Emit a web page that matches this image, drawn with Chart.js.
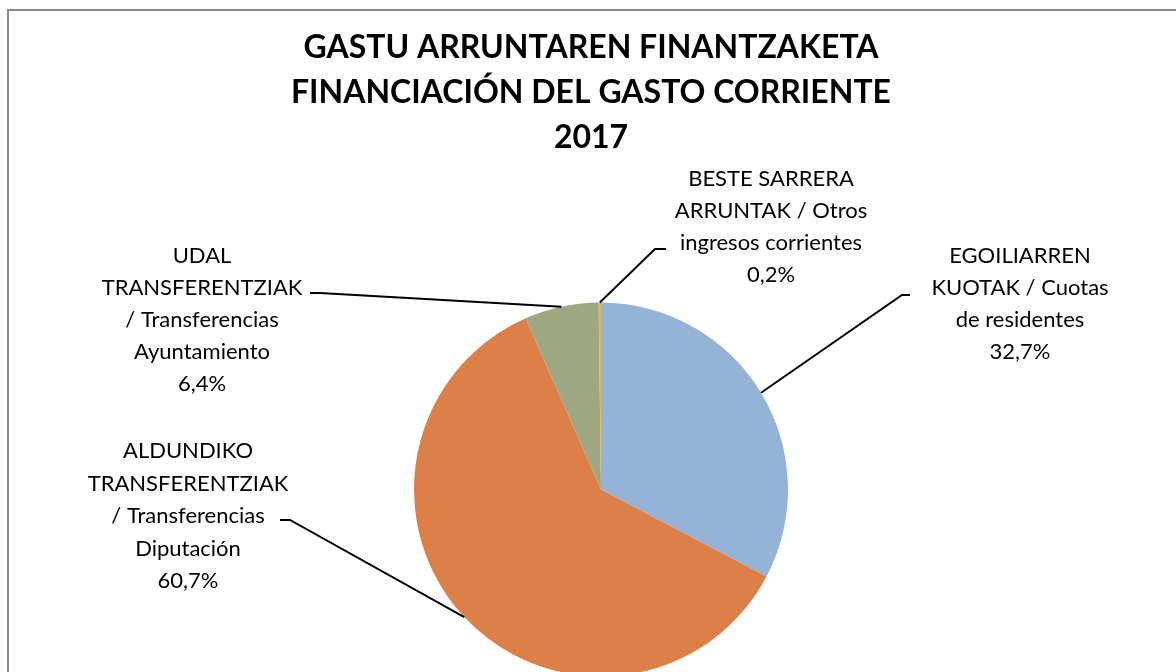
<!DOCTYPE html>
<html>
<head>
<meta charset="utf-8">
<script src="https://cdn.jsdelivr.net/npm/chart.js@4.4.1/dist/chart.umd.min.js"></script>
<style>
  html, body { margin: 0; padding: 0; background: #fff; overflow: hidden; }
  .frame {
    position: absolute; left: 7px; top: 9px;
    width: 1200px; height: 720px;
    border: 2px solid #8a8a8a;
    background: #fff;
  }
  #pie { display: block; }
</style>
</head>
<body>
<div class="frame">
  <canvas id="pie" width="1180" height="700"></canvas>
</div>
<script>
// data
const titleLines = ['GASTU ARRUNTAREN FINANTZAKETA', 'FINANCIACIÓN DEL GASTO CORRIENTE', '2017'];
const categories = [
  ['EGOILIARREN', 'KUOTAK / Cuotas', 'de residentes'],
  ['ALDUNDIKO', 'TRANSFERENTZIAK', '/ Transferencias', 'Diputación'],
  ['UDAL', 'TRANSFERENTZIAK', '/ Transferencias', 'Ayuntamiento'],
  ['BESTE SARRERA', 'ARRUNTAK / Otros', 'ingresos corrientes']
];
const shares = [32.7, 60.7, 6.4, 0.2];
const sliceColors = ['#95B3D7', '#DD8048', '#9DA882', '#EDB540'];

// where each label sits (elbow of the leader, end of the leader, text centre / first baseline / step)
const labelLayout = [
  { elbow: [893, 284], end: [901, 284], x: 1011, y: 252, step: 32 },
  { elbow: [281, 509], end: [271, 509], x: 179, y: 447, step: 32.5 },
  { elbow: [311, 282], end: [301, 282], x: 193, y: 252, step: 32 },
  { elbow: [646, 238], end: [657, 238], x: 762, y: 175, step: 32 }
];

const fmt = v => v.toFixed(1).replace('.', ',') + '%';

const excelLabels = {
  id: 'excelLabels',
  afterDatasetsDraw(chart) {
    const ctx = chart.ctx;
    const meta = chart.getDatasetMeta(0);
    ctx.save();

    // title
    ctx.fillStyle = '#000';
    ctx.font = 'bold 32px Lato, "Open Sans", sans-serif';
    ctx.textAlign = 'center';
    ctx.textBaseline = 'alphabetic';
    titleLines.forEach((t, i) => ctx.fillText(t, 582, 47 + i * 45));

    ctx.font = '22px Lato, "Open Sans", sans-serif';
    meta.data.forEach((arc, i) => {
      const lay = labelLayout[i];
      const mid = (arc.startAngle + arc.endAngle) / 2;
      const px = arc.x + Math.cos(mid) * arc.outerRadius;
      const py = arc.y + Math.sin(mid) * arc.outerRadius;

      ctx.strokeStyle = '#000';
      ctx.lineWidth = 2;
      ctx.beginPath();
      ctx.moveTo(px, py);
      ctx.lineTo(lay.elbow[0], lay.elbow[1]);
      ctx.lineTo(lay.end[0], lay.end[1]);
      ctx.stroke();

      const lines = categories[i].concat([fmt(shares[i])]);
      lines.forEach((t, j) => ctx.fillText(t, lay.x, lay.y + j * lay.step));
    });
    ctx.restore();
  }
};

new Chart(document.getElementById('pie'), {
  type: 'pie',
  data: {
    labels: categories.map(c => c.join(' ')),
    datasets: [{
      data: shares,
      backgroundColor: sliceColors,
      borderWidth: 0
    }]
  },
  options: {
    responsive: false,
    animation: false,
    layout: {
      padding: { left: 405, right: 401, top: 291.5, bottom: 34.5 }
    },
    plugins: {
      legend: { display: false },
      tooltip: { enabled: false },
      title: { display: false }
    }
  },
  plugins: [excelLabels]
});
</script>
</body>
</html>
